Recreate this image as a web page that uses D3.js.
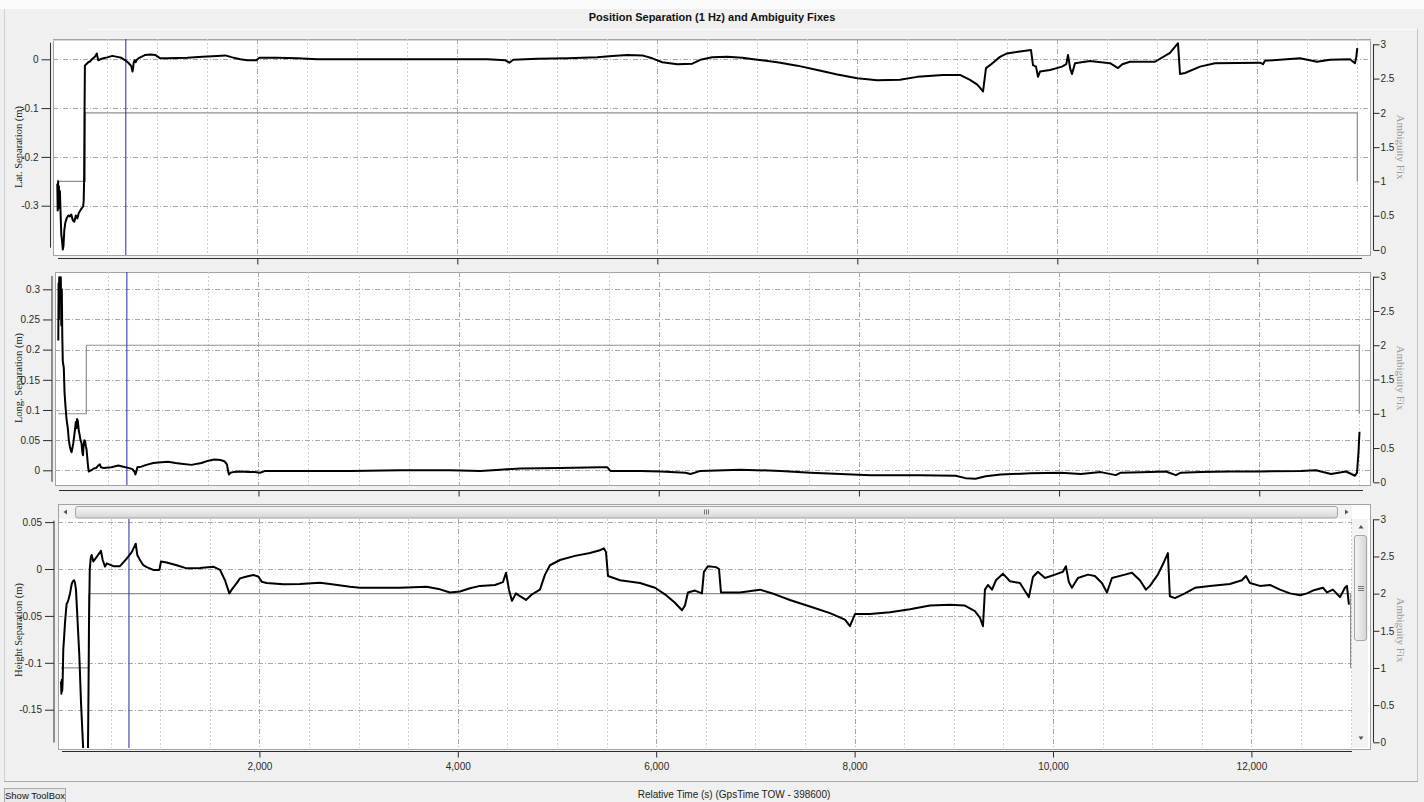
<!DOCTYPE html>
<html>
<head>
<meta charset="utf-8">
<script src="https://cdn.jsdelivr.net/npm/d3@7"></script>
<style>
  html, body { margin: 0; padding: 0; background: #f0f0f0; }
  svg { display: block; }
</style>
</head>
<body>
<svg id="chart" width="1424" height="802"></svg>
<script>
// ---- Data (relative time in seconds, separations in metres) ----
const latTime = [0,4,8,12,16,20,26,32,40,48,55,62,70,80,95,110,125,140,155,170,185,200,215,230,245,258,264,268,272,276,285,295,310,330,350,370,385,395,400,410,430,460,500,550,600,640,680,710,740,752,758,765,775,785,795,820,850,880,930,980,1000,1030,1100,1300,1450,1600,1680,1750,1830,1900,1990,2020,2200,2400,2600,3000,3500,4000,4300,4480,4520,4560,4800,5100,5400,5550,5700,5850,5950,6050,6200,6350,6430,6550,6700,6850,7000,7200,7400,7600,7800,8000,8200,8427,8600,8857,9027,9127,9200,9247,9257,9287,9327,9427,9497,9627,9737,9757,9787,9807,9827,9927,10047,10090,10107,10130,10147,10177,10327,10527,10607,10650,10727,10977,11127,11207,11227,11277,11427,11577,12027,12057,12077,12427,12597,12727,12927,12977,12990,13000];
const latSep = [-0.255,-0.31,-0.25,-0.305,-0.26,-0.295,-0.27,-0.31,-0.36,-0.372,-0.39,-0.382,-0.35,-0.335,-0.325,-0.32,-0.322,-0.318,-0.33,-0.333,-0.32,-0.326,-0.315,-0.31,-0.305,-0.302,-0.29,-0.25,-0.12,-0.013,-0.011,-0.009,-0.006,-0.004,0.001,0.004,0.008,0.012,0.006,-0.002,0.0,0.002,0.004,0.007,0.005,0.003,-0.002,-0.007,-0.014,-0.025,-0.018,-0.005,-0.002,-0.006,-0.001,0.003,0.006,0.009,0.01,0.009,0.006,0.002,0.002,0.003,0.005,0.007,0.008,0.004,0.0,-0.002,-0.002,0.003,0.003,0.002,0.0,0.0,0.0,0.0,0.0,-0.002,-0.007,-0.001,0.001,0.002,0.004,0.007,0.009,0.008,0.002,-0.006,-0.01,-0.009,-0.001,0.004,0.005,0.003,-0.001,-0.006,-0.013,-0.022,-0.031,-0.039,-0.043,-0.042,-0.036,-0.032,-0.032,-0.042,-0.052,-0.063,-0.066,-0.018,-0.012,0.005,0.012,0.016,0.019,-0.012,-0.015,-0.036,-0.025,-0.022,-0.015,-0.01,0.009,-0.02,-0.03,-0.008,-0.0035,-0.008,-0.018,-0.01,-0.005,-0.005,0.013,0.033,-0.03,-0.028,-0.015,-0.008,-0.007,-0.01,-0.003,0.002,-0.005,-0.001,0.0,-0.008,0.005,0.023];

const longTime = [0,3,6,9,12,16,20,25,30,35,40,45,50,55,62,70,82,95,105,115,125,132,140,150,165,175,182,188,195,205,212,222,232,240,247,252,260,268,275,282,290,298,305,315,330,355,380,400,415,425,450,530,600,650,700,740,760,770,778,790,830,880,950,1000,1100,1170,1230,1330,1430,1500,1560,1620,1660,1685,1700,1707,1720,1750,1830,1900,1960,2017,2067,2417,2917,3417,3917,4217,4417,4617,5017,5417,5487,5517,5817,6017,6267,6317,6417,6817,7217,7517,7817,8117,8617,8967,9067,9167,9267,9417,9717,10017,10217,10417,10567,10617,10917,11067,11167,11217,11417,11717,12017,12417,12567,12717,12867,12957,12977,12992,13002];
const longSep = [0.215,0.31,0.25,0.32,0.29,0.318,0.3,0.32,0.24,0.3,0.22,0.18,0.175,0.17,0.13,0.11,0.085,0.07,0.05,0.04,0.033,0.03,0.036,0.045,0.065,0.08,0.07,0.085,0.082,0.065,0.06,0.05,0.045,0.03,0.025,0.04,0.05,0.048,0.04,0.035,0.02,0.005,-0.002,-0.001,0.0,0.003,0.004,0.008,0.01,0.005,0.004,0.005,0.008,0.006,0.004,0.002,-0.002,-0.007,-0.003,0.005,0.006,0.009,0.012,0.013,0.014,0.012,0.011,0.009,0.012,0.016,0.018,0.017,0.015,0.01,-0.004,-0.007,-0.004,-0.003,-0.002,-0.003,-0.003,-0.004,-0.001,-0.001,-0.001,0.0,0.0,-0.001,0.001,0.003,0.004,0.005,0.005,-0.001,-0.001,-0.002,-0.004,-0.006,-0.001,0.001,-0.001,-0.004,-0.006,-0.008,-0.008,-0.009,-0.013,-0.014,-0.01,-0.007,-0.005,-0.004,-0.006,-0.003,-0.008,-0.004,-0.003,-0.002,-0.008,-0.004,-0.003,-0.002,-0.002,-0.001,0.0,-0.006,-0.002,-0.009,-0.004,0.03,0.064];

const heightTime = [0,4,8,12,16,23,30,40,50,57,65,74,91,108,120,131,140,151,165,185,202,225,240,262,272,278,282,290,300,309,326,360,403,420,444,461,527,595,662,713,753,769,796,830,864,930,991,1008,1065,1166,1267,1401,1535,1603,1653,1697,1721,1771,1804,1872,1939,1989,2023,2073,2241,2409,2611,2712,2913,3014,3417,3686,3820,3921,4022,4123,4224,4375,4455,4486,4516,4546,4586,4627,4687,4748,4828,4879,4929,5030,5181,5332,5433,5473,5494,5514,5635,5837,5988,6088,6189,6260,6290,6320,6391,6461,6481,6522,6602,6633,6653,6844,7046,7197,7348,7550,7752,7903,7953,8004,8155,8357,8558,8760,8961,9112,9213,9264,9294,9314,9344,9385,9425,9495,9566,9667,9727,9757,9798,9848,9919,10020,10100,10130,10160,10191,10251,10352,10422,10493,10544,10594,10725,10796,10876,10937,10977,11057,11108,11158,11178,11229,11330,11431,11582,11783,11904,11945,11985,12086,12187,12288,12389,12490,12560,12620,12721,12762,12822,12893,12943,12963,12983];
const heightSep = [-0.12,-0.133,-0.118,-0.13,-0.122,-0.086,-0.075,-0.058,-0.045,-0.037,-0.036,-0.033,-0.026,-0.016,-0.013,-0.012,-0.014,-0.022,-0.051,-0.093,-0.143,-0.195,-0.23,-0.23,-0.19,-0.12,-0.06,0.0,0.012,0.015,0.008,0.013,0.0195,0.0096,0.0025,0.006,0.003,0.003,0.011,0.018,0.027,0.015,0.0096,0.004,0.002,-0.001,-0.001,0.008,0.007,0.004,0.0007,0.001,0.0025,-0.001,-0.012,-0.026,-0.022,-0.015,-0.01,-0.008,-0.0064,-0.008,-0.0135,-0.015,-0.0163,-0.016,-0.0146,-0.016,-0.019,-0.02,-0.02,-0.019,-0.0217,-0.025,-0.024,-0.0206,-0.018,-0.017,-0.014,-0.004,-0.022,-0.034,-0.026,-0.029,-0.033,-0.027,-0.022,-0.006,0.004,0.0096,0.014,0.017,0.02,0.022,0.018,-0.0075,-0.012,-0.015,-0.02,-0.027,-0.036,-0.044,-0.039,-0.025,-0.023,-0.026,-0.003,0.003,0.002,0.0,-0.025,-0.025,-0.022,-0.027,-0.033,-0.04,-0.047,-0.054,-0.061,-0.048,-0.048,-0.046,-0.043,-0.039,-0.038,-0.039,-0.045,-0.052,-0.061,-0.022,-0.017,-0.022,-0.012,-0.005,-0.013,-0.015,-0.025,-0.03,-0.0085,-0.003,-0.0096,-0.006,-0.003,0.003,-0.014,-0.02,-0.0096,-0.006,-0.0075,-0.015,-0.025,-0.0096,-0.006,-0.004,-0.012,-0.022,-0.018,-0.006,0.005,0.017,-0.029,-0.031,-0.026,-0.02,-0.018,-0.016,-0.012,-0.0075,-0.015,-0.018,-0.017,-0.022,-0.026,-0.028,-0.026,-0.023,-0.02,-0.025,-0.022,-0.03,-0.02,-0.018,-0.038];

// Ambiguity fix state (step series) and the time cursor
const fixTime = [0, 280, 13000];
const fixLevel = [1, 2, 1];
const cursorTime = 685;

// Tick values
const latTicks = [0, -0.1, -0.2, -0.3];
const longTicks = [0, 0.05, 0.1, 0.15, 0.2, 0.25, 0.3];
const heightTicks = [0.05, 0, -0.05, -0.1, -0.15];
const fixTicks = [0, 0.5, 1, 1.5, 2, 2.5, 3];
const timeTicks = [2000, 4000, 6000, 8000, 10000, 12000];
const timeMinorTicks = d3.range(1, 27).map(i => i * 500);

// ---- Layout ----
const SERIF = "'Liberation Serif', 'DejaVu Serif', serif";
const SANS = "'Liberation Sans', 'DejaVu Sans', sans-serif";
const svg = d3.select('#chart');

svg.append('rect').attr('width', 1424).attr('height', 802).attr('fill', '#f0f0f0');
svg.append('rect').attr('width', 1424).attr('height', 9).attr('fill', '#fbfbfb');
svg.append('line').attr('x1', 87).attr('x2', 1417).attr('y1', 29.5).attr('y2', 29.5).attr('stroke', '#fbfbfb');
svg.append('line').attr('x1', 4.5).attr('x2', 4.5).attr('y1', 9).attr('y2', 781).attr('stroke', '#cfcfcf');
svg.append('line').attr('x1', 1417.5).attr('x2', 1417.5).attr('y1', 29).attr('y2', 781).attr('stroke', '#c4c4c4');
svg.append('line').attr('x1', 4).attr('x2', 1418).attr('y1', 781.5).attr('y2', 781.5).attr('stroke', '#a9a9a9');

svg.append('text')
  .attr('x', 712).attr('y', 21)
  .attr('text-anchor', 'middle')
  .attr('font-family', SANS).attr('font-size', 11).attr('font-weight', 'bold')
  .attr('fill', '#111')
  .text('Position Separation (1 Hz) and Ambiguity Fixes');

svg.append('text')
  .attr('x', 734).attr('y', 798)
  .attr('text-anchor', 'middle')
  .attr('font-family', SANS).attr('font-size', 10)
  .attr('fill', '#222')
  .text('Relative Time (s) (GpsTime TOW - 398600)');

// toolbox button
svg.append('rect').attr('x', 4.5).attr('y', 788.5).attr('width', 61).attr('height', 14)
  .attr('fill', '#e9e9e9').attr('stroke', '#a8a8a8');
svg.append('text').attr('x', 35).attr('y', 799).attr('text-anchor', 'middle')
  .attr('font-family', SANS).attr('font-size', 9.5)
  .attr('fill', '#111').text('Show ToolBox');

const panels = [
  { key: 'lat', title: 'Lat. Separation (m)', time: latTime, vals: latSep, ticks: latTicks,
    frame: [53, 39, 1370, 255], data: [53, 39, 1370, 255],
    xRange: [57.3, 1357.3], yDom: [0, -0.3], yRange: [59.3, 205.7],
    axisX: 50.5, axisExt: [0.034, -0.386], minorStep: 0.02,
    fixRange: [250, 44.3], xAxisY: 258.5, xAxisExt: [58, 1362], titleY: 147, showTimeLabels: false },
  { key: 'long', title: 'Long. Separation (m)', time: longTime, vals: longSep, ticks: longTicks,
    frame: [55, 272, 1370, 485], data: [55, 272, 1370, 485],
    xRange: [58.3, 1359.3], yDom: [0, 0.3], yRange: [470.3, 289.3],
    axisX: 52, axisExt: [0.322, -0.019], minorStep: 0.01,
    fixRange: [482.3, 276.7], xAxisY: 490.5, xAxisExt: [59, 1363], titleY: 378, showTimeLabels: false },
  { key: 'height', title: 'Height Separation (m)', time: heightTime, vals: heightSep, ticks: heightTicks,
    frame: [58, 504, 1370, 749], data: [58, 519, 1352, 748],
    xRange: [61, 1350.6], yDom: [0, -0.15], yRange: [569, 709.7],
    axisX: 54, axisExt: [0.0515, -0.185], minorStep: 0.01,
    fixRange: [742.3, 519.3], xAxisY: 751.5, xAxisExt: [62, 1352], titleY: 630, showTimeLabels: true, scrollbars: true }
];

function stepRange(lo, hi, step) {
  const a = Math.ceil(lo / step - 1e-9), b = Math.floor(hi / step + 1e-9);
  return d3.range(a, b + 1).map(i => +(i * step).toFixed(4));
}

panels.forEach(p => {
  const x = d3.scaleLinear().domain([0, 13000]).range(p.xRange);
  const y = d3.scaleLinear().domain(p.yDom).range(p.yRange);
  const yFix = d3.scaleLinear().domain([0, 3]).range(p.fixRange);
  const [fx0, fy0, fx1, fy1] = p.frame;
  const [dx0, dy0, dx1, dy1] = p.data;

  const clipId = 'clip-' + p.key;
  svg.append('clipPath').attr('id', clipId).append('rect')
    .attr('x', dx0).attr('y', dy0).attr('width', dx1 - dx0).attr('height', dy1 - dy0);

  const g = svg.append('g');
  g.append('rect').attr('x', fx0 + 0.5).attr('y', fy0 + 0.5)
    .attr('width', fx1 - fx0).attr('height', fy1 - fy0)
    .attr('fill', '#fff').attr('stroke', '#a3a3a3');
  if (p.key === 'lat') {
    g.append('line').attr('x1', fx0).attr('x2', fx1 + 1).attr('y1', fy0 + 1.5).attr('y2', fy0 + 1.5).attr('stroke', '#d5d5d5');
  }

  const plot = g.append('g').attr('clip-path', `url(#${clipId})`);

  // vertical grid
  plot.selectAll('line.vgrid').data(timeMinorTicks).join('line')
    .attr('x1', d => Math.round(x(d)) + 0.5).attr('x2', d => Math.round(x(d)) + 0.5)
    .attr('y1', dy0).attr('y2', dy1)
    .attr('stroke', d => d % 2000 === 0 ? '#a8a8a8' : '#cdcdcd')
    .attr('stroke-dasharray', d => d % 2000 === 0 ? '5,2,1,2' : '2,2');

  // horizontal grid at labelled values
  plot.selectAll('line.hgrid').data(p.ticks).join('line')
    .attr('x1', dx0).attr('x2', dx1)
    .attr('y1', d => Math.round(y(d)) + 0.5).attr('y2', d => Math.round(y(d)) + 0.5)
    .attr('stroke', '#a8a8a8').attr('stroke-dasharray', '5,2,1,2');

  // ambiguity fix state
  const fixPts = fixTime.map((t, i) => [t, fixLevel[i]]);
  plot.append('path').datum(fixPts)
    .attr('d', d3.line().x(d => x(d[0])).y(d => yFix(d[1])).curve(d3.curveStepAfter))
    .attr('fill', 'none').attr('stroke', '#8f8f8f').attr('stroke-width', 1.2);

  // time cursor
  plot.append('line')
    .attr('x1', x(cursorTime)).attr('x2', x(cursorTime))
    .attr('y1', dy0).attr('y2', dy1)
    .attr('stroke', '#3a3ab4').attr('stroke-width', 1.1);

  // separation series
  const pts = p.time.map((t, i) => [t, p.vals[i]]);
  plot.append('path').datum(pts)
    .attr('d', d3.line().x(d => x(d[0])).y(d => y(d[1])))
    .attr('fill', 'none').attr('stroke', '#000').attr('stroke-width', 2)
    .attr('stroke-linejoin', 'round');

  // scrollbars on the lower plot
  if (p.scrollbars) {
    const sb = g.append('g');
    sb.append('rect').attr('x', dx0 + 1).attr('y', fy0 + 1).attr('width', dx1 - dx0 - 1).attr('height', 14)
      .attr('fill', '#f3f3f3');
    const hg = svg.append('defs').append('linearGradient').attr('id', 'hthumb')
      .attr('x1', 0).attr('y1', 0).attr('x2', 0).attr('y2', 1);
    hg.append('stop').attr('offset', 0).attr('stop-color', '#f6f6f6');
    hg.append('stop').attr('offset', 1).attr('stop-color', '#d6d6d6');
    sb.append('rect').attr('x', 75.5).attr('y', 506.5).attr('width', 1262).attr('height', 11.5)
      .attr('rx', 2.5).attr('fill', 'url(#hthumb)').attr('stroke', '#a5a5a5');
    sb.append('path').attr('d', 'M67,509.5 L63.5,512 L67,514.5 Z').attr('fill', '#555');
    sb.append('path').attr('d', 'M1345,509.5 L1348.5,512 L1345,514.5 Z').attr('fill', '#555');
    [-2, 0, 2].forEach(o => sb.append('line').attr('x1', 706.5 + o).attr('x2', 706.5 + o)
      .attr('y1', 509.5).attr('y2', 514.5).attr('stroke', '#777'));

    sb.append('rect').attr('x', dx1).attr('y', dy0).attr('width', 16).attr('height', dy1 - dy0)
      .attr('fill', '#f3f3f3');
    const vg = svg.append('defs').append('linearGradient').attr('id', 'vthumb')
      .attr('x1', 0).attr('y1', 0).attr('x2', 1).attr('y2', 0);
    vg.append('stop').attr('offset', 0).attr('stop-color', '#f6f6f6');
    vg.append('stop').attr('offset', 1).attr('stop-color', '#d6d6d6');
    sb.append('rect').attr('x', 1354.5).attr('y', 535.5).attr('width', 12).attr('height', 105)
      .attr('rx', 2.5).attr('fill', 'url(#vthumb)').attr('stroke', '#a5a5a5');
    sb.append('path').attr('d', 'M1358.5,528.5 L1361,525 L1363.5,528.5 Z').attr('fill', '#555');
    sb.append('path').attr('d', 'M1358.5,736.5 L1361,740 L1363.5,736.5 Z').attr('fill', '#555');
    [-2, 0, 2].forEach(o => sb.append('line').attr('x1', 1358).attr('x2', 1364)
      .attr('y1', 588.5 + o).attr('y2', 588.5 + o).attr('stroke', '#777'));
  }

  // left axis
  const la = g.append('g').attr('transform', `translate(${p.axisX},0)`)
    .attr('font-family', SERIF).attr('font-size', 9).attr('color', '#2a2a2a');
  la.call(d3.axisLeft(y).tickValues(stepRange(p.axisExt[1], p.axisExt[0], p.minorStep))
    .tickSize(4).tickFormat(''));
  la.call(d3.axisLeft(y).tickValues(p.ticks).tickSize(9).tickPadding(3).tickFormat(d => String(d)));
  la.selectAll('.domain').remove();
  la.append('line').attr('x1', 0).attr('x2', 0)
    .attr('y1', y(p.axisExt[0])).attr('y2', y(p.axisExt[1])).attr('stroke', '#2a2a2a');

  // right axis (ambiguity fix)
  const ra = g.append('g').attr('transform', `translate(1373.5,0)`)
    .attr('font-family', SERIF).attr('font-size', 9).attr('color', '#2a2a2a');
  ra.call(d3.axisRight(yFix).tickValues(stepRange(0, 3, 0.1)).tickSize(3).tickFormat(''));
  ra.call(d3.axisRight(yFix).tickValues(fixTicks).tickSize(6).tickPadding(1).tickFormat(d => String(d)));
  ra.selectAll('.domain').remove();
  ra.append('line').attr('x1', 0).attr('x2', 0)
    .attr('y1', yFix(0)).attr('y2', yFix(3)).attr('stroke', '#2a2a2a');

  // bottom time axis
  const ba = g.append('g').attr('transform', `translate(0,${p.xAxisY})`)
    .attr('font-family', SERIF).attr('font-size', 8.5).attr('color', '#2a2a2a');
  ba.call(d3.axisBottom(x).tickValues(timeMinorTicks).tickSize(3).tickFormat(''));
  ba.call(d3.axisBottom(x).tickValues(timeTicks).tickSize(6).tickPadding(5)
    .tickFormat(p.showTimeLabels ? d3.format(',') : ''));
  ba.selectAll('.domain').remove();
  ba.append('line').attr('x1', p.xAxisExt[0]).attr('x2', p.xAxisExt[1])
    .attr('y1', 0).attr('y2', 0).attr('stroke', '#2a2a2a');

  // axis titles
  g.append('text')
    .attr('transform', `translate(18,${p.titleY}) rotate(-90)`)
    .attr('text-anchor', 'middle').attr('dy', '0.35em')
    .attr('font-family', SERIF).attr('font-size', 10.5).attr('fill', '#222')
    .text(p.title);
  g.append('text')
    .attr('transform', `translate(1401,${p.titleY}) rotate(90)`)
    .attr('text-anchor', 'middle').attr('dy', '0.35em')
    .attr('font-family', SERIF).attr('font-size', 11).attr('fill', '#9a9a9a')
    .text('Ambiguity Fix');
});
</script>
</body>
</html>
